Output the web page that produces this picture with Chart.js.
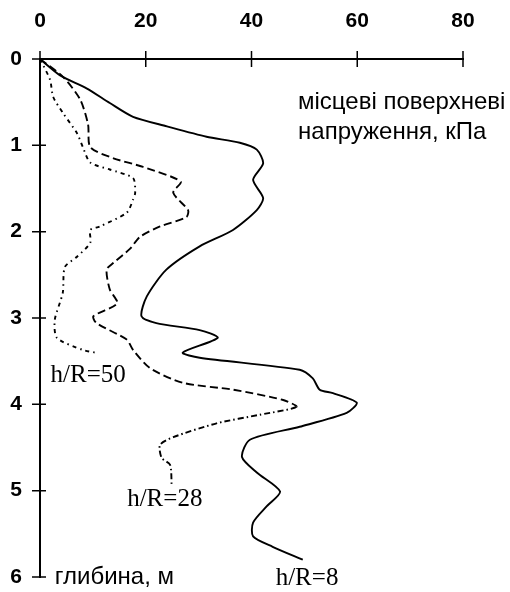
<!DOCTYPE html>
<html>
<head>
<meta charset="utf-8">
<script src="https://cdn.jsdelivr.net/npm/chart.js@4"></script>
<style>
  body { margin: 0; background: #fff; }
</style>
</head>
<body>
<canvas id="chart" width="510" height="592"></canvas>
<script>
// stress (kPa) and depth (m), one pair of arrays per curve
const stress8 = [0, 3.8, 8.8, 13.2, 17.6, 24, 31.5, 37.8, 41, 42.2, 40.3, 42.2, 41, 36.5, 30.2, 23.9, 20.2, 19.2, 22, 30.2, 33.6, 27, 30.2, 49.1, 51.6, 52.9, 55.4, 59.9, 58, 49.1, 39.7, 38.2, 41, 45.4, 42.9, 40.3, 40.3, 44, 49.7];
const depth8  = [0, 0.19, 0.34, 0.51, 0.67, 0.78, 0.90, 0.97, 1.05, 1.21, 1.40, 1.61, 1.75, 1.98, 2.17, 2.44, 2.75, 2.98, 3.06, 3.14, 3.23, 3.40, 3.46, 3.60, 3.70, 3.83, 3.87, 3.98, 4.10, 4.26, 4.41, 4.61, 4.79, 5.01, 5.18, 5.37, 5.53, 5.65, 5.80];

const stress28 = [0, 4.4, 7.6, 9.1, 9.5, 13.9, 19.5, 26.6, 25.2, 28, 27.7, 22.7, 18.9, 17, 13.9, 12.6, 13.2, 14.6, 10.1, 10.7, 16.4, 17.6, 20.8, 27, 36.5, 46, 48.5, 41.6, 33.4, 25.2, 22.7, 23, 24.6, 24.9];
const depth28  = [0, 0.21, 0.47, 0.76, 1.02, 1.15, 1.25, 1.42, 1.55, 1.75, 1.83, 1.94, 2.06, 2.2, 2.36, 2.44, 2.67, 2.83, 2.98, 3.06, 3.25, 3.37, 3.58, 3.75, 3.83, 3.95, 4.03, 4.12, 4.22, 4.38, 4.47, 4.62, 4.70, 4.93];
// past the peak the h/R=28 line is drawn dash-dot
const turn28 = 26;

const stress50 = [0, 1.9, 2.5, 4.4, 7, 8.1, 9.5, 13.2, 17.6, 18, 17.6, 16.4, 11.3, 9.5, 9.5, 7, 4.7, 4.3, 2.8, 3.2, 8.1, 10.4];
const depth50  = [0, 0.24, 0.44, 0.63, 0.86, 1.02, 1.2, 1.28, 1.38, 1.55, 1.63, 1.78, 1.94, 1.98, 2.13, 2.29, 2.41, 2.71, 3.02, 3.23, 3.37, 3.40];

const xTicks = [0, 20, 40, 60, 80];
const yTicks = [0, 1, 2, 3, 4, 5, 6];

// curve labels and axis captions, anchored in data units
const curveLabels = [
    {text: 'h/R=50', x: 9.1, y: 3.66},
    {text: 'h/R=28', x: 23.6, y: 5.1},
    {text: 'h/R=8', x: 50.5, y: 6.02}
];
const captions = [
    {text: 'місцеві поверхневі', x: 48.8, y: 0.50},
    {text: 'напруження, кПа', x: 48.8, y: 0.845},
    {text: 'глибина, м', x: 2.8, y: 6.0}
];

function pairs(xs, ys){
    return xs.map((v, i) => ({x: v, y: ys[i]}));
}

// ticks that cross the axis lines, like the original drawing
const crossTicks = {
    id: 'crossTicks',
    afterDraw(chart){
        const ctx = chart.ctx;
        const xs = chart.scales.x;
        const ys = chart.scales.y;
        const top = chart.chartArea.top;
        const left = chart.chartArea.left;
        ctx.save();
        ctx.strokeStyle = '#000';
        ctx.lineWidth = 1.5;
        ctx.beginPath();
        xTicks.forEach(v => {
            const px = xs.getPixelForValue(v);
            ctx.moveTo(px, top - 8);
            ctx.lineTo(px, top + 8);
        });
        yTicks.forEach(v => {
            const py = ys.getPixelForValue(v);
            ctx.moveTo(left - 8, py);
            ctx.lineTo(left + 6, py);
        });
        ctx.stroke();

        ctx.fillStyle = '#000';
        ctx.textBaseline = 'middle';
        ctx.font = '25px "Liberation Serif", serif';
        ctx.textAlign = 'center';
        curveLabels.forEach(l => {
            ctx.fillText(l.text, xs.getPixelForValue(l.x), ys.getPixelForValue(l.y));
        });
        ctx.font = '24px "Liberation Sans", Arial, sans-serif';
        ctx.textAlign = 'left';
        captions.forEach(l => {
            ctx.fillText(l.text, xs.getPixelForValue(l.x), ys.getPixelForValue(l.y));
        });
        ctx.restore();
    }
};

const lineStyle = {
    borderColor: '#000',
    pointRadius: 0,
    showLine: true,
    tension: 0.25,
    fill: false
};

const data = {
    datasets: [
        Object.assign({label: 'h/R=8', data: pairs(stress8, depth8), borderWidth: 1.9}, lineStyle),
        Object.assign({
            label: 'h/R=28', data: pairs(stress28, depth28), borderWidth: 1.9, borderDash: [8, 4],
            segment: {borderDash: c => c.p0DataIndex >= turn28 ? [6, 3, 1.5, 3] : [8, 4]}
        }, lineStyle),
        Object.assign({label: 'h/R=50', data: pairs(stress50, depth50), borderWidth: 1.9, borderDash: [4, 4, 1.5, 4]}, lineStyle)
    ]
};

const tickFont = {family: '"Liberation Sans", Arial, sans-serif', size: 21, weight: 'bold'};

const config = {
    type: 'scatter',
    data: data,
    options: {
        responsive: false,
        animation: false,
        layout: {padding: {top: 0, left: 0, right: 47, bottom: 15}},
        plugins: {legend: {display: false}, tooltip: {enabled: false}},
        scales: {
            x: {
                type: 'linear',
                position: 'top',
                min: 0, max: 80,
                afterBuildTicks: s => { s.ticks = xTicks.map(v => ({value: v})); },
                afterFit: s => { s.height = 59; },
                grid: {display: true, drawOnChartArea: false, drawTicks: true, tickLength: 25, tickColor: 'rgba(0,0,0,0)'},
                border: {display: true, color: '#000', width: 2},
                ticks: {color: '#000', font: tickFont, padding: 0, maxRotation: 0, autoSkip: false}
            },
            y: {
                type: 'linear',
                reverse: true,
                min: 0, max: 6,
                afterBuildTicks: s => { s.ticks = yTicks.map(v => ({value: v})); },
                afterFit: s => { s.width = 40; },
                grid: {display: true, drawOnChartArea: false, drawTicks: true, tickLength: 18, tickColor: 'rgba(0,0,0,0)'},
                border: {display: true, color: '#000', width: 2},
                ticks: {color: '#000', font: tickFont, padding: 0, autoSkip: false}
            }
        }
    },
    plugins: [crossTicks]
};

window.onload = function() {
    new Chart(document.getElementById('chart'), config);
};
</script>
</body>
</html>
